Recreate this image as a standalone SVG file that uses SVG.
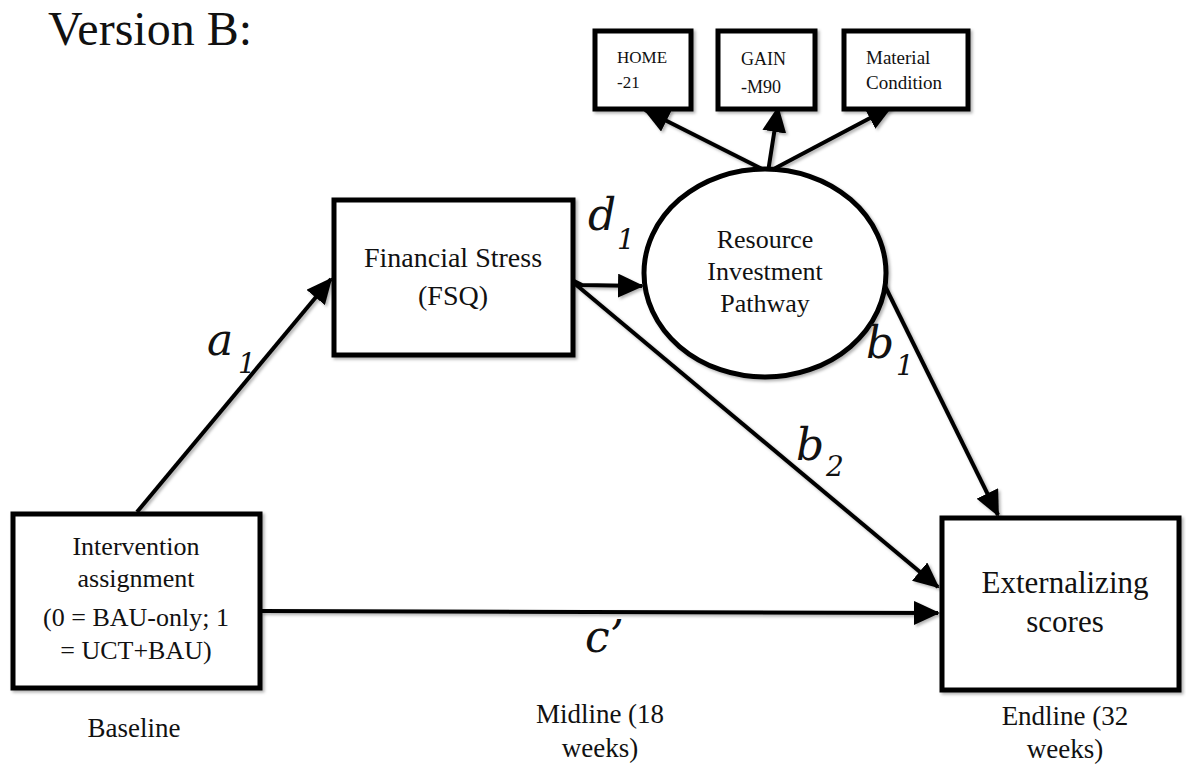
<svg xmlns="http://www.w3.org/2000/svg" width="1186" height="767" viewBox="0 0 1186 767">
<style>
.box{fill:#fff;stroke:#000;stroke-width:5;filter:url(#sh)}
.t{font-family:"Liberation Serif","DejaVu Serif",serif;fill:#111;text-anchor:middle}
.s{text-anchor:start}
.lab{font-family:"DejaVu Serif","Liberation Serif",serif;font-style:italic;font-size:44px;fill:#111}
.sub{font-family:"DejaVu Serif","Liberation Serif",serif;font-style:italic;font-size:28px;fill:#111}
.c{stroke:#000;stroke-width:4;fill:none;marker-end:url(#ah)}
</style>
<defs>
<filter id="sh" x="-10%" y="-10%" width="130%" height="130%">
<feDropShadow dx="2" dy="2" stdDeviation="1.5" flood-color="#000" flood-opacity="0.3"/>
</filter>
<marker id="ah" markerUnits="userSpaceOnUse" markerWidth="26" markerHeight="24" refX="24" refY="12" orient="auto">
<path d="M0,0 L26,12 L0,24 Z" fill="#000"/>
</marker>
</defs>
<rect width="1186" height="767" fill="#fff"/>
<text x="48" y="45" font-family="Liberation Serif, DejaVu Serif, serif" font-size="48" fill="#111">Version B:</text>
<g id="connectors" filter="url(#sh)">
<line class="c" x1="137" y1="512" x2="331" y2="279"/>
<polyline class="c" points="574,281 582,285 642,286"/>
<line class="c" x1="574" y1="283" x2="938" y2="587"/>
<line class="c" x1="883" y1="282" x2="998" y2="515"/>
<line class="c" x1="261" y1="611" x2="938" y2="613"/>
<line class="c" x1="768" y1="172" x2="645" y2="110"/>
<line class="c" x1="768" y1="172" x2="778" y2="108"/>
<line class="c" x1="768" y1="172" x2="891" y2="107"/>
</g>
<g id="home"><rect class="box" x="595" y="31" width="96" height="78"/>
<text class="t s" x="617" y="63" font-size="17">HOME</text>
<text class="t s" x="617" y="88" font-size="17">-21</text></g>
<g id="gain"><rect class="box" x="718" y="31" width="97" height="78"/>
<text class="t s" x="741" y="65" font-size="18">GAIN</text>
<text class="t s" x="741" y="93" font-size="18">-M90</text></g>
<g id="material"><rect class="box" x="844" y="31" width="124" height="78"/>
<text class="t s" x="866" y="64" font-size="19">Material</text>
<text class="t s" x="866" y="89" font-size="19">Condition</text></g>
<g id="financial"><rect class="box" x="334" y="200" width="239" height="155"/>
<text class="t" x="453" y="267" font-size="28">Financial Stress</text>
<text class="t" x="453" y="305" font-size="28">(FSQ)</text></g>
<g id="resource"><ellipse class="box" cx="765" cy="273" rx="121" ry="104"/>
<text class="t" x="765" y="248" font-size="26">Resource</text>
<text class="t" x="765" y="280" font-size="26">Investment</text>
<text class="t" x="765" y="312" font-size="26">Pathway</text></g>
<g id="intervention"><rect class="box" x="13" y="514" width="247" height="174"/>
<text class="t" x="136" y="555" font-size="26">Intervention</text>
<text class="t" x="136" y="587" font-size="26">assignment</text>
<text class="t" x="136" y="626" font-size="26">(0 = BAU-only; 1</text>
<text class="t" x="136" y="659" font-size="26">= UCT+BAU)</text></g>
<g id="externalizing"><rect class="box" x="942" y="518" width="237" height="172"/>
<text class="t" x="1065" y="593" font-size="31">Externalizing</text>
<text class="t" x="1065" y="632" font-size="31">scores</text></g>
<g id="labels">
<text class="lab" x="207" y="355">a</text><text class="sub" x="238" y="373">1</text>
<text class="lab" x="588" y="230">d</text><text class="sub" x="617" y="249">1</text>
<text class="lab" x="866" y="358">b</text><text class="sub" x="896" y="375">1</text>
<text class="lab" x="796" y="460">b</text><text class="sub" x="826" y="476">2</text>
<text class="lab" x="585" y="652">c’</text>
<text class="t" x="134" y="737" font-size="27">Baseline</text>
<text class="t" x="600" y="723" font-size="27">Midline (18</text>
<text class="t" x="600" y="757" font-size="27">weeks)</text>
<text class="t" x="1065" y="725" font-size="27">Endline (32</text>
<text class="t" x="1065" y="758" font-size="27">weeks)</text>
</g>
</svg>
